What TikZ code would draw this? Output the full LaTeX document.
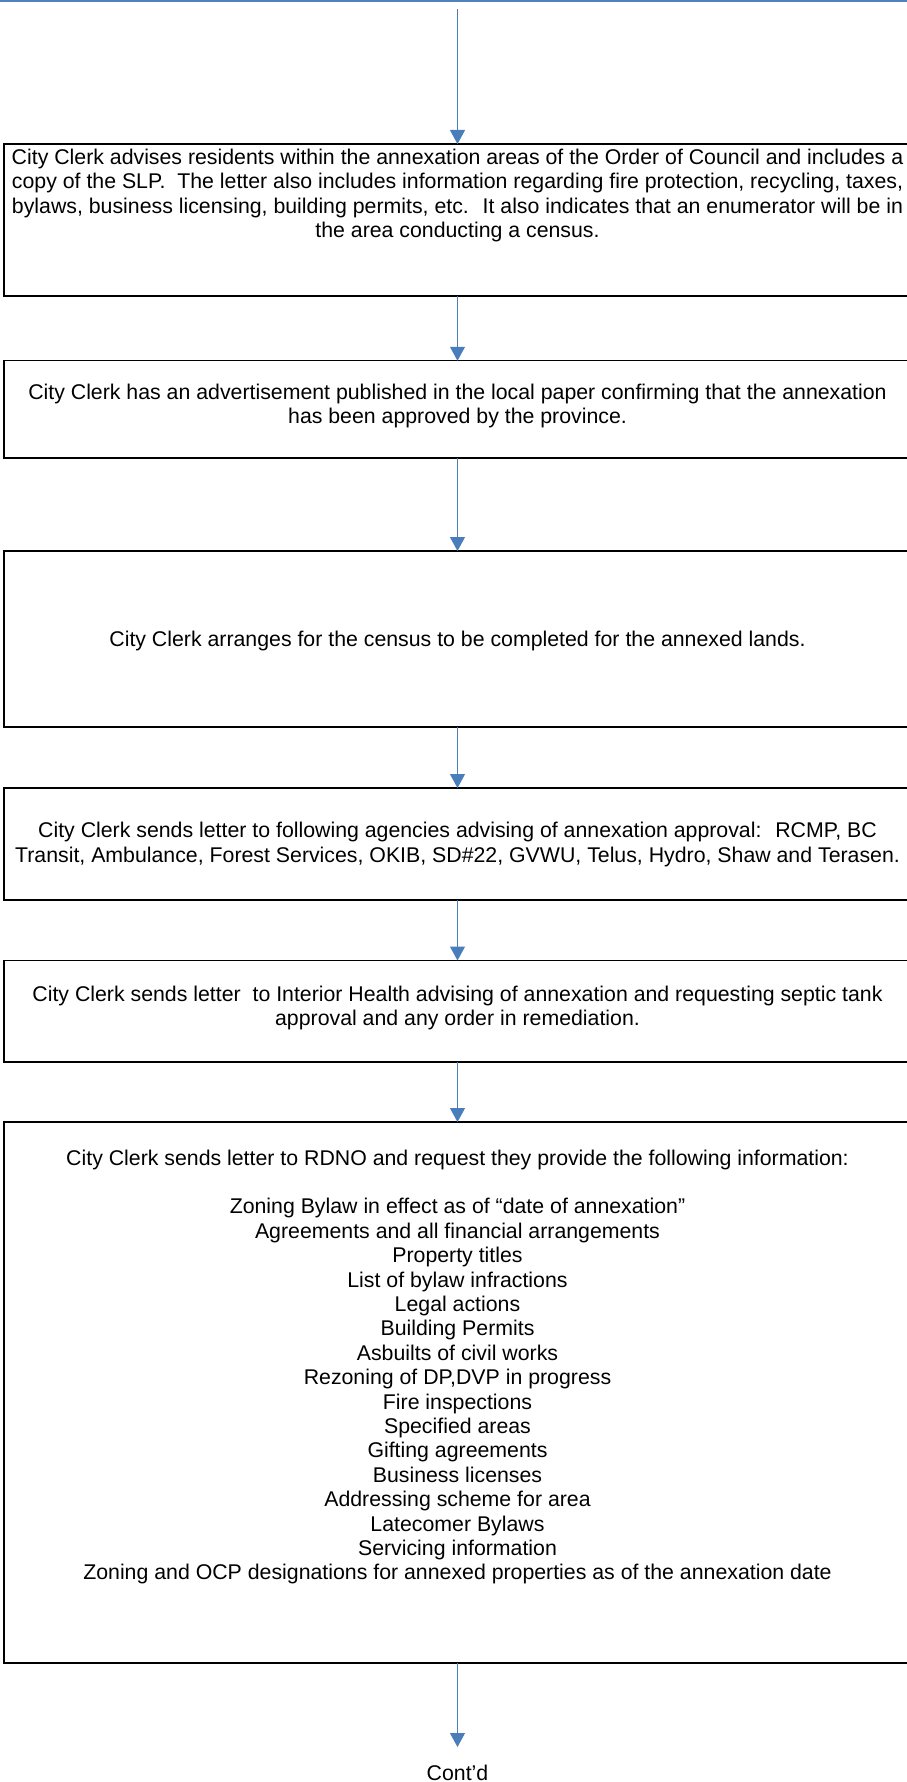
\documentclass[tikz,border=0pt]{standalone}
\usepackage{fontspec}
\setmainfont{Liberation Sans}
\usetikzlibrary{arrows.meta}
\definecolor{conncol}{RGB}{74,126,187}
\definecolor{topcol}{RGB}{79,129,189}
\begin{document}
\begin{tikzpicture}[x=1pt,y=-1pt,
  box/.style={draw=black,line width=1.3pt,rectangle,minimum width=907pt,inner sep=0pt,outer sep=0pt},
  txt/.style={font=\fontsize{21.3}{24.4}\selectfont,align=center,inner sep=0pt,outer sep=0pt},
  conn/.style={draw=conncol,line width=1.1pt,-{Triangle[length=14pt,width=15pt,fill=conncol]}},
]
\clip (0,0) rectangle (907,1782);
% top rule
\draw[topcol,line width=1.8pt] (0,0.9) -- (907,0.9);

% boxes
\node[box,minimum height=152pt]   (b1) at (457.5,220) {};
\node[box,minimum height=97.3pt]  (b2) at (457.5,409.4) {};
\node[box,minimum height=176pt]   (b3) at (457.5,639) {};
\node[box,minimum height=112pt]   (b4) at (457.5,844) {};
\node[box,minimum height=101.5pt] (b5) at (457.5,1011.25) {};
\node[box,minimum height=541pt]   (b6) at (457.5,1392.5) {};

% texts
\node[txt,anchor=north] (t1) at (457.5,149) {City Clerk advises residents within the annexation areas of the Order of Council and includes a\\
copy of the SLP.~ The letter also includes information regarding fire protection, recycling, taxes,\\
bylaws, business licensing, building permits, etc.~ It also indicates that an enumerator will be in\\
the area conducting a census.};

\node[txt] (t2) at (457.5,405.8) {City Clerk has an advertisement published in the local paper confirming that the annexation\\
has been approved by the province.};

\node[txt] (t3) at (457.5,641.2) {City Clerk arranges for the census to be completed for the annexed lands.};

\node[txt] (t4) at (457.5,844.5) {City Clerk sends letter to following agencies advising of annexation approval:~ RCMP, BC\\
Transit, Ambulance, Forest Services, OKIB, SD\#22, GVWU, Telus, Hydro, Shaw and Terasen.};

\node[txt] (t5) at (457.5,1007.8) {City Clerk sends letter~ to Interior Health advising of annexation and requesting septic tank\\
approval and any order in remediation.};

\node[txt] (t6) at (457.5,1367) {City Clerk sends letter to RDNO and request they provide the following information:\\[24.4pt]
Zoning Bylaw in effect as of “date of annexation”\\
Agreements and all financial arrangements\\
Property titles\\
List of bylaw infractions\\
Legal actions\\
Building Permits\\
Asbuilts of civil works\\
Rezoning of DP,DVP in progress\\
Fire inspections\\
Specified areas\\
Gifting agreements\\
Business licenses\\
Addressing scheme for area\\
Latecomer Bylaws\\
Servicing information\\
Zoning and OCP designations for annexed properties as of the annexation date};

% connectors
\coordinate (s0) at (457.5,9);
\coordinate (e6) at (457.5,1747);
\draw[conn] (s0) -- (b1.north);
\draw[conn] (b1.south) -- (b2.north);
\draw[conn] (b2.south) -- (b3.north);
\draw[conn] (b3.south) -- (b4.north);
\draw[conn] (b4.south) -- (b5.north);
\draw[conn] (b5.south) -- (b6.north);
\draw[conn] (b6.south) -- (e6);

\node[txt,anchor=base] (cont) at (457.5,1780.5) {Cont’d};
\end{tikzpicture}
\end{document}
